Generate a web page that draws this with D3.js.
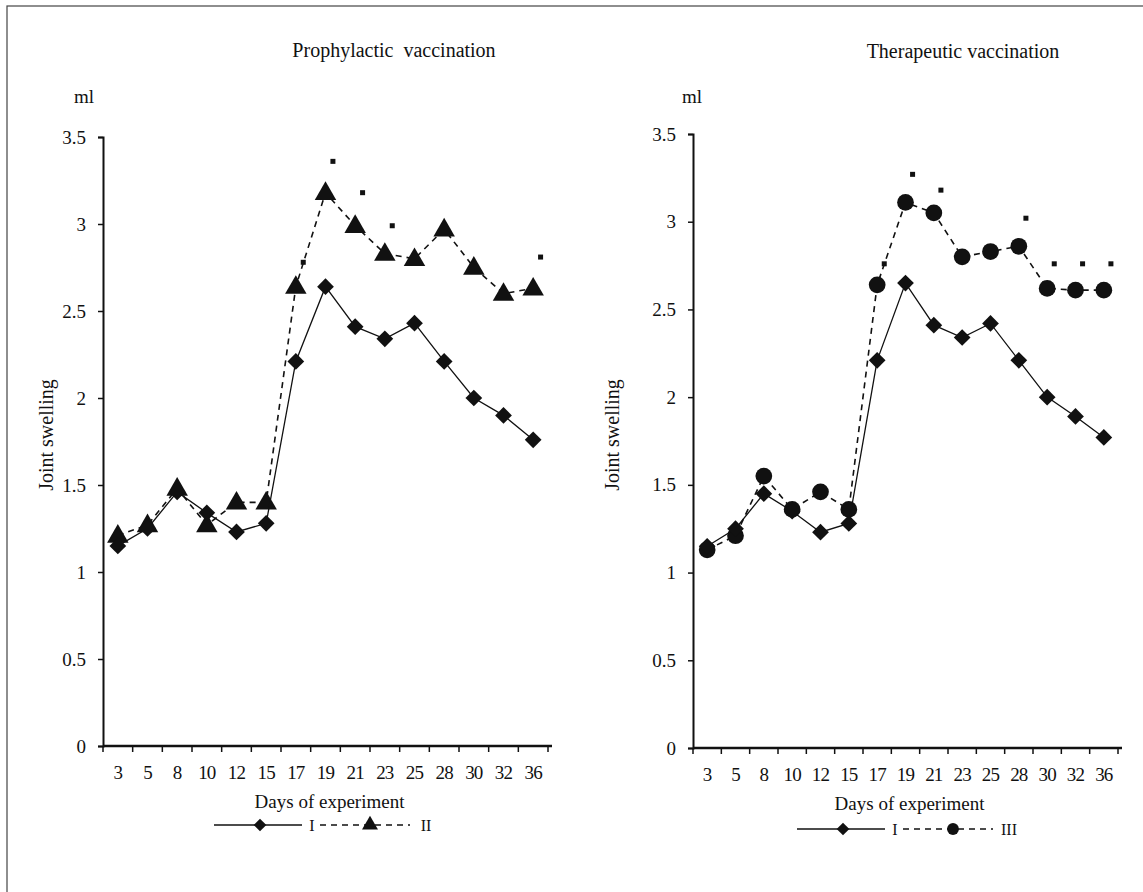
<!DOCTYPE html>
<html>
<head>
<meta charset="utf-8">
<script src="https://cdn.jsdelivr.net/npm/d3@7"></script>
<style>
  body { margin: 0; background: #fff; }
  text { font-family: "Liberation Serif", "DejaVu Serif", serif; fill: #111; }
</style>
</head>
<body>
<div id="chart"></div>
<script>
// x categories (days) and y ticks
const days = ["3", "5", "8", "10", "12", "15", "17", "19", "21", "23", "25", "28", "30", "32", "36"];
const yTicks = [0, 0.5, 1, 1.5, 2, 2.5, 3, 3.5];

// Prophylactic vaccination
const prophI = [1.15, 1.25, 1.46, 1.34, 1.23, 1.28, 2.21, 2.64, 2.41, 2.34, 2.43, 2.21, 2.00, 1.90, 1.76];
const prophII = [1.21, 1.27, 1.48, 1.27, 1.40, 1.40, 2.64, 3.18, 2.99, 2.83, 2.80, 2.97, 2.75, 2.60, 2.63];
const prophIIErr = [null, null, null, null, null, null, 2.78, 3.36, 3.18, 2.99, null, null, null, null, 2.81];

// Therapeutic vaccination
const therI = [1.15, 1.25, 1.45, 1.35, 1.23, 1.28, 2.21, 2.65, 2.41, 2.34, 2.42, 2.21, 2.00, 1.89, 1.77];
const therIII = [1.13, 1.21, 1.55, 1.36, 1.46, 1.36, 2.64, 3.11, 3.05, 2.80, 2.83, 2.86, 2.62, 2.61, 2.61];
const therIIIErr = [null, null, null, null, null, null, 2.76, 3.27, 3.18, null, null, 3.02, 2.76, 2.76, 2.76];

const width = 1143, height = 892;

const svg = d3.select("#chart").append("svg")
    .attr("width", width)
    .attr("height", height);

// frame (only left and top edges visible)
svg.append("rect")
    .attr("x", 7).attr("y", 6)
    .attr("width", 1200).attr("height", 1000)
    .attr("fill", "none")
    .attr("stroke", "#444")
    .attr("stroke-width", 1.2);

function drawPanel(p) {
    let g = svg.append("g");

    let x = d3.scaleBand()
        .domain(days)
        .range([p.x0, p.x1]);

    let y = d3.scaleLinear()
        .domain([0, 3.5])
        .range([p.y0, p.y1]);

    // title
    g.append("text")
        .attr("x", p.titleX).attr("y", p.titleY)
        .attr("text-anchor", "middle")
        .attr("font-size", 20)
        .style("white-space", "pre")
        .text(p.title);

    g.append("text")
        .attr("x", p.mlX).attr("y", 103)
        .attr("text-anchor", "middle")
        .attr("font-size", 19)
        .text("ml");

    // y axis
    let yAxis = d3.axisLeft(y)
        .tickValues(yTicks)
        .tickFormat(d => d)
        .tickSize(5)
        .tickPadding(12);
    let ya = g.append("g")
        .attr("transform", `translate(${p.x0},0)`)
        .call(yAxis);
    ya.attr("font-family", null).attr("font-size", null);
    ya.select(".domain").attr("stroke", "#111").attr("stroke-width", 2);
    ya.selectAll(".tick line").attr("stroke", "#111").attr("stroke-width", 1.5);
    ya.selectAll("text").attr("font-size", 19).attr("fill", "#111");

    // x axis, ticks at the band boundaries
    let xa = g.append("g")
        .attr("transform", `translate(0,${p.y0})`);
    xa.append("line")
        .attr("x1", p.x0).attr("x2", p.x1 + 4)
        .attr("stroke", "#111").attr("stroke-width", 2.5);
    let bounds = days.map(d => x(d)).concat([p.x1]);
    xa.selectAll(".xtick").data(bounds).enter().append("line")
        .attr("x1", d => d).attr("x2", d => d)
        .attr("y1", 0).attr("y2", 6)
        .attr("stroke", "#111").attr("stroke-width", 1.5);
    xa.selectAll(".xlab").data(days).enter().append("text")
        .attr("x", d => x(d) + x.bandwidth() / 2)
        .attr("y", 33)
        .attr("text-anchor", "middle")
        .attr("font-size", 19)
        .attr("letter-spacing", -0.8)
        .text(d => d);

    g.append("text")
        .attr("x", (p.x0 + p.x1) / 2 + 4).attr("y", p.y0 + 62)
        .attr("text-anchor", "middle")
        .attr("font-size", 19)
        .text("Days of experiment");

    g.append("text")
        .attr("transform", `translate(${p.ylabX},435) rotate(-90)`)
        .attr("text-anchor", "middle")
        .attr("font-size", 20)
        .text("Joint swelling");

    let cx = i => x(days[i]) + x.bandwidth() / 2;

    let line = d3.line()
        .x((d, i) => cx(i))
        .y(d => y(d));

    // error bar tips
    p.err.forEach((d, i) => {
        if (d === null) return;
        g.append("rect")
            .attr("x", cx(i) + x.bandwidth() * 0.25 - 2.5)
            .attr("y", y(d) - 2.5)
            .attr("width", 5).attr("height", 5)
            .attr("fill", "#111");
    });

    // dashed series
    g.append("path")
        .datum(p.s2)
        .attr("d", line)
        .attr("fill", "none")
        .attr("stroke", "#111")
        .attr("stroke-width", 1.6)
        .attr("stroke-dasharray", "6,5");

    let sym2 = d3.symbol().type(p.shape2).size(p.shape2 === d3.symbolCircle ? 220 : 200);
    g.selectAll(".m2").data(p.s2).enter().append("path")
        .attr("d", sym2)
        .attr("transform", (d, i) => `translate(${cx(i)},${y(d) + (p.shape2 === d3.symbolTriangle ? 1 : 0)})`)
        .attr("fill", "#111");

    // solid series
    g.append("path")
        .datum(p.s1)
        .attr("d", line)
        .attr("fill", "none")
        .attr("stroke", "#111")
        .attr("stroke-width", 1.3);

    let sym1 = d3.symbol().type(d3.symbolSquare).size(140);
    g.selectAll(".m1").data(p.s1).enter().append("path")
        .attr("d", sym1)
        .attr("transform", (d, i) => `translate(${cx(i)},${y(d)}) rotate(45)`)
        .attr("fill", "#111");

    // legend
    let lg = g.append("g").attr("transform", `translate(${p.legX},${p.legY})`);
    lg.append("line").attr("x1", 0).attr("x2", 88)
        .attr("stroke", "#111").attr("stroke-width", 1.3);
    lg.append("path").attr("d", d3.symbol().type(d3.symbolSquare).size(80))
        .attr("transform", "translate(46,0) rotate(45)").attr("fill", "#111");
    lg.append("text").attr("x", 98).attr("y", 6)
        .attr("font-size", 16).attr("text-anchor", "middle").text("I");
    lg.append("line").attr("x1", 106).attr("x2", 196)
        .attr("stroke", "#111").attr("stroke-width", 1.5)
        .attr("stroke-dasharray", "6,5");
    lg.append("path").attr("d", d3.symbol().type(p.shape2).size(110))
        .attr("transform", "translate(156,0)").attr("fill", "#111");
    lg.append("text").attr("x", 212).attr("y", 6)
        .attr("font-size", 16).attr("text-anchor", "middle").text(p.name2);
}

drawPanel({
    title: "Prophylactic  vaccination", titleX: 394, titleY: 57,
    mlX: 84, ylabX: 53,
    x0: 103, x1: 548, y0: 746, y1: 137,
    s1: prophI, s2: prophII, err: prophIIErr,
    shape2: d3.symbolTriangle, name2: "II",
    legX: 214, legY: 825
});

drawPanel({
    title: "Therapeutic vaccination", titleX: 963, titleY: 58,
    mlX: 692, ylabX: 619,
    x0: 693, x1: 1118, y0: 748, y1: 134,
    s1: therI, s2: therIII, err: therIIIErr,
    shape2: d3.symbolCircle, name2: "III",
    legX: 797, legY: 829
});
</script>
</body>
</html>
